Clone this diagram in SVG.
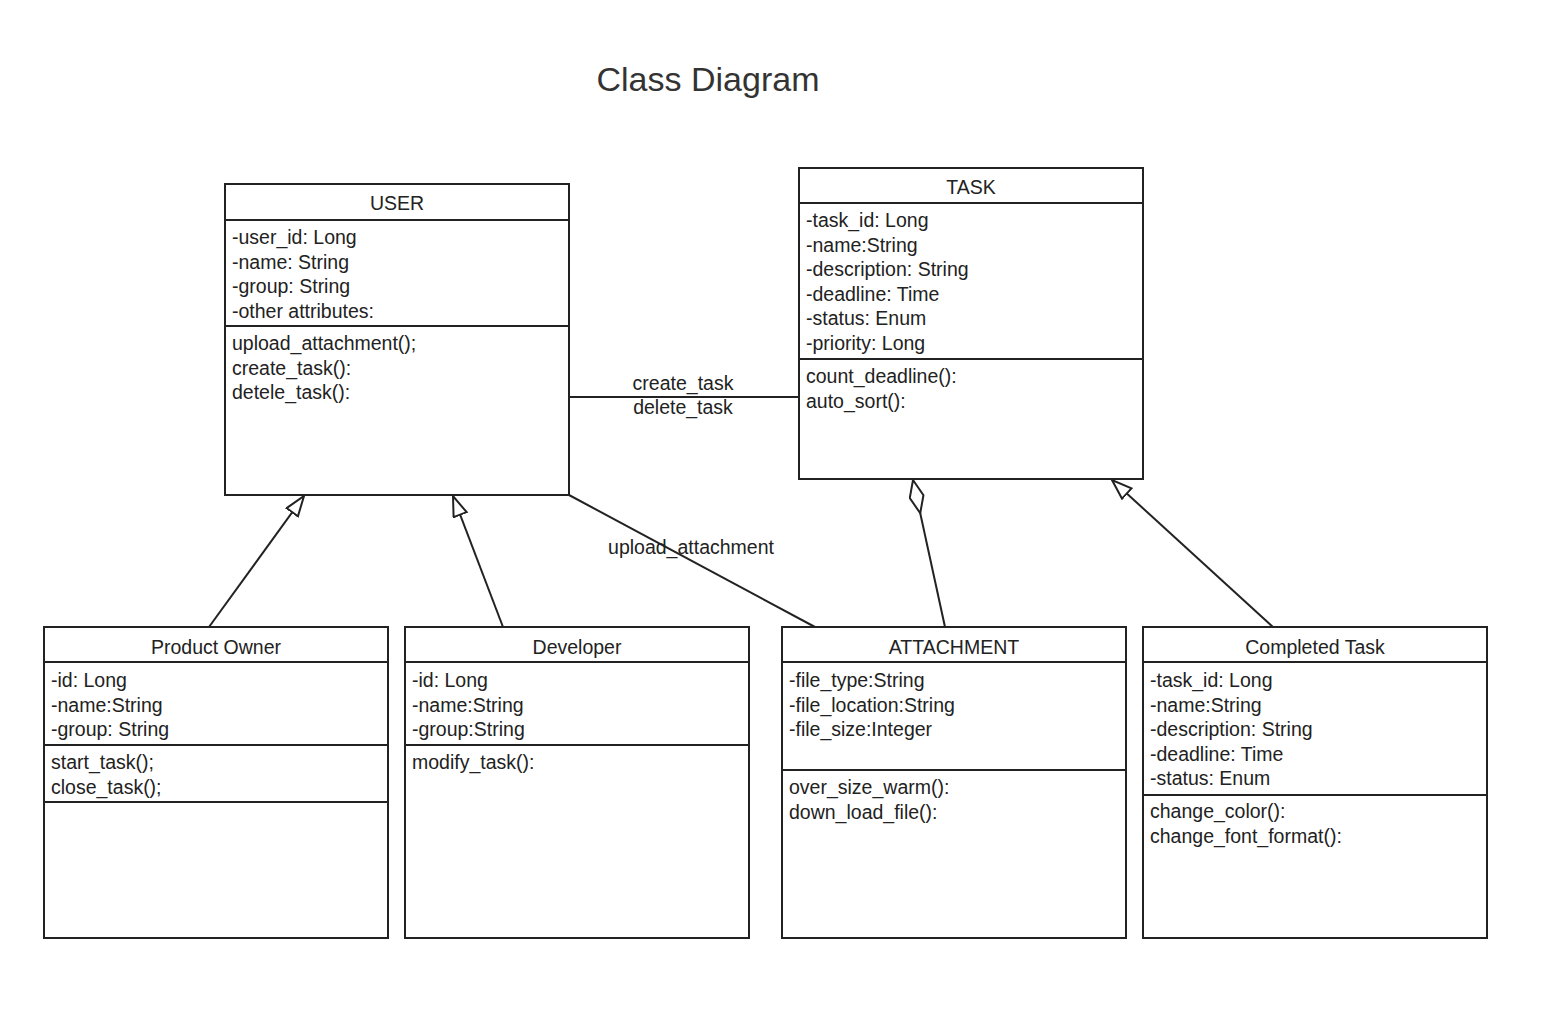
<svg xmlns="http://www.w3.org/2000/svg" width="1554" height="1022" viewBox="0 0 1554 1022">
<style>
text{font-family:"Liberation Sans",Arial,sans-serif;font-size:19.5px;fill:#222}
.t{text-anchor:middle}
.box{fill:#fff;stroke:#222;stroke-width:2}
.ln{stroke:#222;stroke-width:2;fill:none}
.title{font-size:34px;fill:#333}
</style>
<defs>
<marker id="tri" markerUnits="userSpaceOnUse" markerWidth="24" markerHeight="18" refX="21" refY="8" orient="auto" viewBox="0 0 24 18">
<path d="M1,1 L21,8 L1,15 Z" fill="#fff" stroke="#222" stroke-width="2"/>
</marker>
<marker id="dia" markerUnits="userSpaceOnUse" markerWidth="38" markerHeight="18" refX="35" refY="8" orient="auto" viewBox="0 0 38 18">
<path d="M1,8 L18,1 L35,8 L18,15 Z" fill="#fff" stroke="#222" stroke-width="2"/>
</marker>
</defs>
<rect width="1554" height="1022" fill="#fff"/>
<text class="title t" x="708" y="91">Class Diagram</text>

<g id="connectors">
<line class="ln" x1="569" y1="397" x2="799" y2="397"/>
<text class="t" x="683" y="390">create_task</text>
<text class="t" x="683" y="414">delete_task</text>
<line class="ln" x1="569" y1="495" x2="815" y2="627"/>
<text class="t" x="691" y="554">upload_attachment</text>
<line class="ln" x1="209" y1="627" x2="304" y2="496" marker-end="url(#tri)"/>
<line class="ln" x1="503" y1="627" x2="453" y2="496" marker-end="url(#tri)"/>
<line class="ln" x1="945" y1="627" x2="913" y2="480" marker-end="url(#dia)"/>
<line class="ln" x1="1273" y1="627" x2="1112" y2="480" marker-end="url(#tri)"/>
</g>

<g id="user">
<rect class="box" x="225" y="184" width="344" height="311"/>
<line class="ln" x1="225" y1="220" x2="569" y2="220"/>
<line class="ln" x1="225" y1="326" x2="569" y2="326"/>
<text class="t" x="397" y="210">USER</text>
<text x="232" y="244">-user_id: Long</text>
<text x="232" y="268.5">-name: String</text>
<text x="232" y="293">-group: String</text>
<text x="232" y="317.5">-other attributes:</text>
<text x="232" y="350">upload_attachment();</text>
<text x="232" y="374.5">create_task():</text>
<text x="232" y="399">detele_task():</text>
</g>

<g id="task">
<rect class="box" x="799" y="168" width="344" height="311"/>
<line class="ln" x1="799" y1="203" x2="1143" y2="203"/>
<line class="ln" x1="799" y1="359" x2="1143" y2="359"/>
<text class="t" x="971" y="194">TASK</text>
<text x="806" y="227">-task_id: Long</text>
<text x="806" y="251.5">-name:String</text>
<text x="806" y="276">-description: String</text>
<text x="806" y="300.5">-deadline: Time</text>
<text x="806" y="325">-status: Enum</text>
<text x="806" y="349.5">-priority: Long</text>
<text x="806" y="383">count_deadline():</text>
<text x="806" y="407.5">auto_sort():</text>
</g>

<g id="product-owner">
<rect class="box" x="44" y="627" width="344" height="311"/>
<line class="ln" x1="44" y1="662" x2="388" y2="662"/>
<line class="ln" x1="44" y1="745" x2="388" y2="745"/>
<line class="ln" x1="44" y1="802" x2="388" y2="802"/>
<text class="t" x="216" y="654">Product Owner</text>
<text x="51" y="687">-id: Long</text>
<text x="51" y="711.5">-name:String</text>
<text x="51" y="736">-group: String</text>
<text x="51" y="769">start_task();</text>
<text x="51" y="793.5">close_task();</text>
</g>

<g id="developer">
<rect class="box" x="405" y="627" width="344" height="311"/>
<line class="ln" x1="405" y1="662" x2="749" y2="662"/>
<line class="ln" x1="405" y1="745" x2="749" y2="745"/>
<text class="t" x="577" y="654">Developer</text>
<text x="412" y="687">-id: Long</text>
<text x="412" y="711.5">-name:String</text>
<text x="412" y="736">-group:String</text>
<text x="412" y="769">modify_task():</text>
</g>

<g id="attachment">
<rect class="box" x="782" y="627" width="344" height="311"/>
<line class="ln" x1="782" y1="662" x2="1126" y2="662"/>
<line class="ln" x1="782" y1="770" x2="1126" y2="770"/>
<text class="t" x="954" y="654">ATTACHMENT</text>
<text x="789" y="687">-file_type:String</text>
<text x="789" y="711.5">-file_location:String</text>
<text x="789" y="736">-file_size:Integer</text>
<text x="789" y="794">over_size_warm():</text>
<text x="789" y="818.5">down_load_file():</text>
</g>

<g id="completed-task">
<rect class="box" x="1143" y="627" width="344" height="311"/>
<line class="ln" x1="1143" y1="662" x2="1487" y2="662"/>
<line class="ln" x1="1143" y1="795" x2="1487" y2="795"/>
<text class="t" x="1315" y="654">Completed Task</text>
<text x="1150" y="687">-task_id: Long</text>
<text x="1150" y="711.5">-name:String</text>
<text x="1150" y="736">-description: String</text>
<text x="1150" y="760.5">-deadline: Time</text>
<text x="1150" y="785">-status: Enum</text>
<text x="1150" y="818">change_color():</text>
<text x="1150" y="842.5">change_font_format():</text>
</g>
</svg>
